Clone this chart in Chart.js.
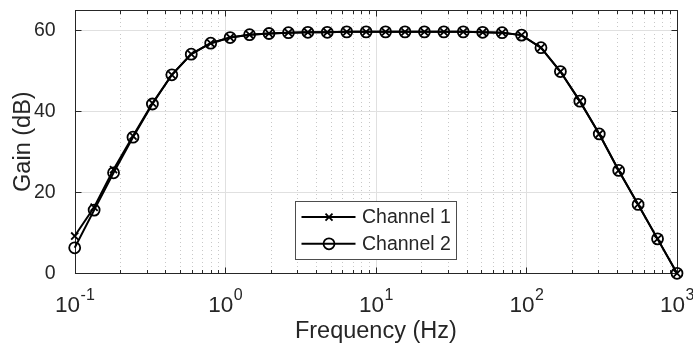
<!DOCTYPE html>
<html><head><meta charset="utf-8">
<script src="https://cdn.jsdelivr.net/npm/chart.js@4.4.1/dist/chart.umd.min.js"></script>
<style>html,body{margin:0;padding:0;background:#fff;overflow:hidden}#wrap{width:693px;height:349px}</style>
</head><body><div id="wrap"><canvas id="c" width="693" height="349"></canvas></div>
<script>
const frequencies = [0.1, 0.1346, 0.1811, 0.2438, 0.3281, 0.4416, 0.5943, 0.8000, 1.0771, 1.4497, 1.9512, 2.6261, 3.5346, 4.7572, 6.4029, 8.6177, 11.599, 15.611, 21.012, 28.281, 38.064, 51.232, 68.954, 92.806, 124.91, 168.12, 226.28, 304.55, 409.91, 551.71, 742.56, 1000];
const channel1 = [9.2, 16.3, 25.6, 33.9, 42.0, 49.0, 54.1, 56.8, 58.2, 58.9, 59.2, 59.4, 59.5, 59.5, 59.6, 59.6, 59.6, 59.6, 59.6, 59.6, 59.6, 59.5, 59.4, 58.8, 55.7, 49.8, 42.5, 34.4, 25.4, 17.0, 8.5, 0.0];
const channel2 = [6.3, 15.6, 24.8, 33.6, 41.8, 49.0, 54.1, 56.8, 58.2, 58.9, 59.2, 59.4, 59.5, 59.5, 59.6, 59.6, 59.6, 59.6, 59.6, 59.6, 59.6, 59.5, 59.4, 58.8, 55.7, 49.8, 42.5, 34.4, 25.4, 17.0, 8.5, 0.0];
const seriesNames = ['Channel 1', 'Channel 2'];
const yTicks = [0, 20, 40, 60];
const xDecades = [0.1, 1, 10, 100, 1000];
const xTickExponents = ['-1', '0', '1', '2', '3'];
const xTitle = 'Frequency (Hz)';
const yTitle = 'Gain (dB)';

const FONT = "'Liberation Sans', Arial, Helvetica, sans-serif";
const TXT = '#262626';

const framePlugin = {
  id: 'frame',
  beforeDatasetsDraw(chart) {
    const ctx = chart.ctx, ca = chart.chartArea, xs = chart.scales.x, ys = chart.scales.y;
    ctx.save();
    ctx.strokeStyle = '#c8c8c8'; ctx.lineWidth = 1; ctx.setLineDash([1, 3]);
    for (let i = 0; i < xDecades.length - 1; i++) {
      for (let m = 2; m <= 9; m++) {
        const px = Math.round(xs.getPixelForValue(xDecades[i] * m)) + 0.5;
        ctx.beginPath(); ctx.moveTo(px, ca.top); ctx.lineTo(px, ca.bottom); ctx.stroke();
      }
    }
    ctx.setLineDash([]);
    ctx.strokeStyle = '#e0e0e0';
    xDecades.forEach(v => {
      const px = Math.round(xs.getPixelForValue(v)) + 0.5;
      ctx.beginPath(); ctx.moveTo(px, ca.top); ctx.lineTo(px, ca.bottom); ctx.stroke();
    });
    yTicks.forEach(v => {
      const py = Math.round(ys.getPixelForValue(v)) + 0.5;
      ctx.beginPath(); ctx.moveTo(ca.left, py); ctx.lineTo(ca.right, py); ctx.stroke();
    });
    ctx.strokeStyle = TXT;
    const L = Math.round(ca.left) + 0.5, R = Math.round(ca.right) + 0.5, T = Math.round(ca.top) + 0.5, B = Math.round(ca.bottom) + 0.5;
    ctx.strokeRect(L, T, R - L, B - T);
    ctx.beginPath();
    for (let i = 0; i < xDecades.length - 1; i++) {
      for (let m = 2; m <= 9; m++) {
        const px = Math.round(xs.getPixelForValue(xDecades[i] * m)) + 0.5;
        ctx.moveTo(px, B); ctx.lineTo(px, B - 3.5);
        ctx.moveTo(px, T); ctx.lineTo(px, T + 3.5);
      }
    }
    xDecades.forEach(v => {
      const px = Math.round(xs.getPixelForValue(v)) + 0.5;
      ctx.moveTo(px, B); ctx.lineTo(px, B - 6);
      ctx.moveTo(px, T); ctx.lineTo(px, T + 6);
    });
    yTicks.forEach(v => {
      const py = Math.round(ys.getPixelForValue(v)) + 0.5;
      ctx.moveTo(L, py); ctx.lineTo(L + 6, py);
      ctx.moveTo(R, py); ctx.lineTo(R - 6, py);
    });
    ctx.stroke();
    ctx.restore();
  },
  afterDraw(chart) {
    const ctx = chart.ctx, ca = chart.chartArea, xs = chart.scales.x;
    ctx.save();
    ctx.fillStyle = TXT;
    xDecades.forEach((v, i) => {
      const px = xs.getPixelForValue(v);
      ctx.font = '22.5px ' + FONT;
      const wb = ctx.measureText('10').width;
      ctx.font = '16px ' + FONT;
      const we = ctx.measureText(xTickExponents[i]).width;
      const x0 = px - (wb + we) / 2;
      ctx.textBaseline = 'alphabetic'; ctx.textAlign = 'left';
      ctx.font = '22.5px ' + FONT;
      ctx.fillText('10', x0, ca.bottom + 38.5);
      ctx.font = '16px ' + FONT;
      ctx.fillText(xTickExponents[i], x0 + wb + 0.5, ca.bottom + 27);
    });
    const bx = Math.round(ca.left + 220.3) + 0.5, by = Math.round(ca.top + 191.4) + 0.5, bw = 161, bh = 58;
    ctx.fillStyle = '#ffffff';
    ctx.fillRect(bx, by, bw, bh);
    ctx.strokeStyle = '#4d4d4d'; ctx.lineWidth = 1;
    ctx.strokeRect(bx, by, bw, bh);
    const rows = [by + 15.6, by + 42.3];
    rows.forEach((ry, i) => {
      ctx.strokeStyle = '#000'; ctx.lineWidth = 2;
      ctx.beginPath(); ctx.moveTo(bx + 6, ry); ctx.lineTo(bx + 60, ry); ctx.stroke();
      const mx = bx + 33.5;
      ctx.lineWidth = 1.8;
      ctx.beginPath();
      if (i === 0) {
        const d = 3.5;
        ctx.moveTo(mx - d, ry - d); ctx.lineTo(mx + d, ry + d);
        ctx.moveTo(mx - d, ry + d); ctx.lineTo(mx + d, ry - d);
      } else {
        ctx.arc(mx, ry, 5.5, 0, Math.PI * 2);
      }
      ctx.stroke();
      ctx.fillStyle = TXT; ctx.font = '19.5px ' + FONT;
      ctx.textAlign = 'left'; ctx.textBaseline = 'middle';
      ctx.fillText(seriesNames[i], bx + 66.5, ry + 1);
    });
    ctx.restore();
  }
};

const mkPoints = ys => frequencies.map((f, i) => ({ x: f, y: ys[i] }));

new Chart(document.getElementById('c'), {
  type: 'line',
  data: {
    datasets: [
      { label: seriesNames[0], data: mkPoints(channel1), borderColor: '#000', borderWidth: 2,
        pointStyle: 'crossRot', pointRadius: 5, pointBorderWidth: 1.8, pointBorderColor: '#000',
        pointBackgroundColor: 'rgba(0,0,0,0)', tension: 0, clip: false },
      { label: seriesNames[1], data: mkPoints(channel2), borderColor: '#000', borderWidth: 2,
        pointStyle: 'circle', pointRadius: 5.5, pointBorderWidth: 1.8, pointBorderColor: '#000',
        pointBackgroundColor: 'rgba(0,0,0,0)', tension: 0, clip: false }
    ]
  },
  options: {
    responsive: false, animation: false, devicePixelRatio: 1,
    layout: { padding: { top: 10, right: 16, left: 0, bottom: 0 } },
    plugins: { legend: { display: false }, tooltip: { enabled: false } },
    scales: {
      x: {
        type: 'logarithmic', min: 0.1, max: 1000,
        grid: { display: false }, border: { display: false },
        ticks: { display: false },
        title: { display: true, text: xTitle, color: TXT, font: { family: FONT, size: 23.5 }, padding: { top: 0, bottom: 3 } },
        afterFit: s => { s.height = 75.7; s.paddingLeft = 0; s.paddingRight = 0; }
      },
      y: {
        type: 'linear', min: 0, max: 65,
        afterBuildTicks: s => { s.ticks = yTicks.map(v => ({ value: v })); },
        grid: { display: false }, border: { display: false },
        ticks: { color: TXT, font: { family: FONT, size: 19.5 }, padding: 11 },
        title: { display: true, text: yTitle, color: TXT, font: { family: FONT, size: 23.5 }, padding: { top: 9.5, bottom: 0 } },
        afterFit: s => { s.width = 74.7; s.paddingTop = 0; s.paddingBottom = 0; }
      }
    }
  },
  plugins: [framePlugin]
});
</script>
</body></html>
